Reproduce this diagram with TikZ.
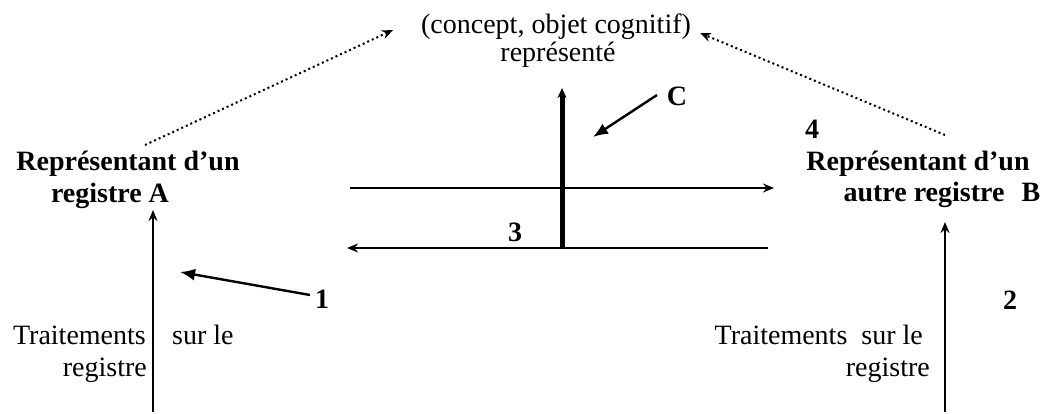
\documentclass[tikz,border=0pt]{standalone}
\usepackage{fontspec}
\setmainfont{Liberation Serif}
\usetikzlibrary{arrows.meta}
\begin{document}
\begin{tikzpicture}[x=1pt,y=-1pt,
  txt/.style={font=\fontsize{28}{32}\selectfont, inner sep=0pt, anchor=base},
  btxt/.style={font=\fontsize{28}{32}\selectfont\bfseries, inner sep=0pt, anchor=base},
  thin/.style={line width=1.9pt, -{Stealth[length=11pt,width=9pt]}},
  thick/.style={line width=5pt, -{Stealth[length=10pt,width=9pt]}},
  pointer/.style={line width=2.4pt, -{Latex[length=15pt,width=12pt]}},
  dots/.style={line width=2pt, dash pattern=on 2pt off 3pt, -{Stealth[length=11pt,width=9pt]}}]
\useasboundingbox (0,0) rectangle (1062,414);
% texts
\node[txt] (concept) at (556,34) {(concept, objet cognitif)};
\node[txt] (repr) at (558,62) {représenté};
\node[btxt] (repA1) at (128,171) {Représentant d’un};
\node[btxt] (repA2) at (110,202) {registre A};
\node[btxt] (repB1) at (918,171) {Représentant d’un};
\node[btxt] (repB2) at (924,201) {autre registre};
\node[btxt] (labB) at (1031,201) {B};
\node[btxt] (labC) at (677,106) {C};
\node[btxt] (lab1) at (322,308) {1};
\node[btxt] (lab2) at (1010,309) {2};
\node[btxt] (lab3) at (515,241) {3};
\node[btxt] (lab4) at (812,139) {4};
\node[txt, anchor=base east] (trA) at (146,344) {Traitements};
\node[txt, anchor=base west] (surA) at (172,344) {sur le};
\node[txt, anchor=base east] (regA) at (147,376) {registre};
\node[txt, anchor=base east] (trB) at (923,344) {Traitements\ \ sur le};
\node[txt, anchor=base east] (regB) at (930,376) {registre};
% coordinates
\coordinate (dA0) at (145,145);
\coordinate (dA1) at (393,30);
\coordinate (dB0) at (945,135);
\coordinate (dB1) at (700,33);
\coordinate (vA0) at (153,412);
\coordinate (vA1) at (153,210);
\coordinate (vB0) at (945,412);
\coordinate (vB1) at (945,222);
\coordinate (h10) at (350,188);
\coordinate (h11) at (774,188);
\coordinate (h20) at (768,248);
\coordinate (h21) at (347,248);
\coordinate (c0) at (562,248);
\coordinate (c1) at (562,88);
\coordinate (p1a) at (310,295);
\coordinate (p1b) at (180,272);
\coordinate (pCa) at (657,95);
\coordinate (pCb) at (593,137);
% connectors
\draw[dots] (dA0) -- (dA1);
\draw[dots] (dB0) -- (dB1);
\draw[thin] (vA0) -- (vA1);
\draw[thin] (vB0) -- (vB1);
\draw[thin] (h10) -- (h11);
\draw[thin] (h20) -- (h21);
\draw[thick] (c0) -- (c1);
\draw[pointer] (p1a) -- (p1b);
\draw[pointer] (pCa) -- (pCb);
\end{tikzpicture}
\end{document}
